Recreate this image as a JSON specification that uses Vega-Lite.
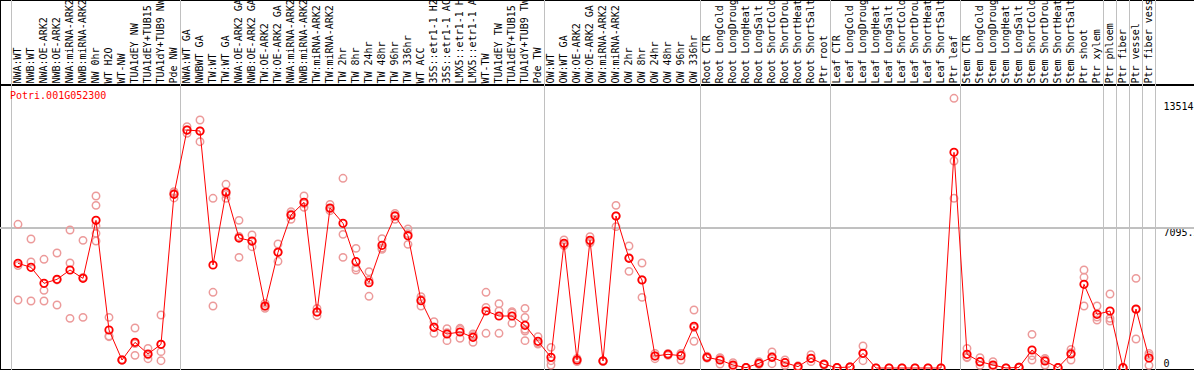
{
  "$schema": "https://vega.github.io/schema/vega-lite/v6.json",
  "width": 1196,
  "height": 370,
  "autosize": {"type": "none"},
  "padding": 0,
  "background": "white",
  "config": {
    "view": {"stroke": "black", "strokeWidth": 2},
    "font": "DejaVu Sans Mono"
  },
  "title": {
    "text": "Potri.001G052300",
    "orient": "bottom",
    "anchor": "start",
    "frame": "group",
    "offset": -284,
    "dx": 10,
    "color": "#ff0000",
    "font": "DejaVu Sans Mono",
    "fontSize": 10,
    "fontWeight": "normal",
    "baseline": "top"
  },
  "datasets": {
    "means": [
      {"sample": "NWA:WT", "mean": 5299, "first": true},
      {"sample": "NWB:WT", "mean": 5095},
      {"sample": "NWA:OE-ARK2", "mean": 4286},
      {"sample": "NWB:OE-ARK2", "mean": 4488},
      {"sample": "NWA:miRNA-ARK2", "mean": 4960},
      {"sample": "NWB:miRNA-ARK2", "mean": 4538},
      {"sample": "NW 0hr", "mean": 7474},
      {"sample": "WT H2O", "mean": 1923},
      {"sample": "WT-NW", "mean": 405},
      {"sample": "TUA1dEY NW", "mean": 1299},
      {"sample": "TUA1dEY+TUB15 NW", "mean": 709},
      {"sample": "TUA1dY+TUB9 NW", "mean": 1198},
      {"sample": "Pde NW", "mean": 8791},
      {"sample": "NWA:WT GA", "mean": 12045, "first": true},
      {"sample": "NWBWT GA", "mean": 11995},
      {"sample": "TW:WT", "mean": 5213},
      {"sample": "TW:WT GA", "mean": 8892},
      {"sample": "NWA:OE-ARK2 GA", "mean": 6579},
      {"sample": "NWB:OE-ARK2 GA", "mean": 6427},
      {"sample": "TW:OE-ARK2", "mean": 3138},
      {"sample": "TW:OE-ARK2 GA", "mean": 5855},
      {"sample": "NWA:miRNA-ARK2 GA", "mean": 7743},
      {"sample": "NWB:miRNA-ARK2 GA", "mean": 8386},
      {"sample": "TW:miRNA-ARK2", "mean": 2834},
      {"sample": "TW:miRNA-ARK2 GA", "mean": 8098},
      {"sample": "TW 2hr", "mean": 7323},
      {"sample": "TW 8hr", "mean": 5382},
      {"sample": "TW 24hr", "mean": 4319},
      {"sample": "TW 48hr", "mean": 6208},
      {"sample": "TW 96hr", "mean": 7693},
      {"sample": "TW 336hr", "mean": 6697},
      {"sample": "WT ACC", "mean": 3408},
      {"sample": "35S::etr1-1 H2O", "mean": 2058},
      {"sample": "35S::etr1-1 ACC", "mean": 1721},
      {"sample": "LMX5::etr1-1 H2O", "mean": 1822},
      {"sample": "LMX5::etr1-1 ACC", "mean": 1552},
      {"sample": "WT-TW", "mean": 2885},
      {"sample": "TUA1dEY TW", "mean": 2632},
      {"sample": "TUA1dEY+TUB15 TW", "mean": 2632},
      {"sample": "TUA1dY+TUB9 TW", "mean": 2159},
      {"sample": "Pde TW", "mean": 1350},
      {"sample": "OW:WT", "mean": 540, "first": true},
      {"sample": "OW:WT GA", "mean": 6309},
      {"sample": "OW:OE-ARK2", "mean": 405},
      {"sample": "OW:OE-ARK2 GA", "mean": 6461},
      {"sample": "OW:miRNA-ARK2", "mean": 354},
      {"sample": "OW:miRNA-ARK2 GA", "mean": 7693},
      {"sample": "OW 2hr", "mean": 5551},
      {"sample": "OW 8hr", "mean": 4454},
      {"sample": "OW 24hr", "mean": 607},
      {"sample": "OW 48hr", "mean": 692},
      {"sample": "OW 96hr", "mean": 624},
      {"sample": "OW 336hr", "mean": 2109},
      {"sample": "Root CTR", "mean": 540, "first": true},
      {"sample": "Root LongCold", "mean": 405},
      {"sample": "Root LongDrought", "mean": 152},
      {"sample": "Root LongHeat", "mean": 17},
      {"sample": "Root LongSalt", "mean": 236},
      {"sample": "Root ShortCold", "mean": 540},
      {"sample": "Root ShortDrought", "mean": 270},
      {"sample": "Root ShortHeat", "mean": 68},
      {"sample": "Root ShortSalt", "mean": 489},
      {"sample": "Ptr root", "mean": 186},
      {"sample": "Leaf CTR", "mean": 17, "first": true},
      {"sample": "Leaf LongCold", "mean": 50},
      {"sample": "Leaf LongDrought", "mean": 742},
      {"sample": "Leaf LongHeat", "mean": 0},
      {"sample": "Leaf LongSalt", "mean": 0},
      {"sample": "Leaf ShortCold", "mean": 0},
      {"sample": "Leaf ShortDrought", "mean": 0},
      {"sample": "Leaf ShortHeat", "mean": 0},
      {"sample": "Leaf ShortSalt", "mean": 0},
      {"sample": "Ptr leaf", "mean": 10915},
      {"sample": "Stem CTR", "mean": 692, "first": true},
      {"sample": "Stem LongCold", "mean": 321},
      {"sample": "Stem LongDrought", "mean": 152},
      {"sample": "Stem LongHeat", "mean": 0},
      {"sample": "Stem LongSalt", "mean": 34},
      {"sample": "Stem ShortCold", "mean": 911},
      {"sample": "Stem ShortDrought", "mean": 354},
      {"sample": "Stem ShortHeat", "mean": 17},
      {"sample": "Stem ShortSalt", "mean": 709},
      {"sample": "Ptr shoot", "mean": 4235},
      {"sample": "Ptr xylem", "mean": 2716},
      {"sample": "Ptr phloem", "mean": 2885, "first": true},
      {"sample": "Ptr fiber", "mean": 17, "first": true},
      {"sample": "Ptr vessel", "mean": 2986, "first": true},
      {"sample": "Ptr fiber vessel", "mean": 506, "first": true, "last": true}
    ],
    "reps": [
      {"sample": "NWA:WT", "value": 7272}, {"sample": "NWA:WT", "value": 5184}, {"sample": "NWA:WT", "value": 3441},
      {"sample": "NWB:WT", "value": 6529}, {"sample": "NWB:WT", "value": 5365}, {"sample": "NWB:WT", "value": 3391},
      {"sample": "NWA:OE-ARK2", "value": 5501}, {"sample": "NWA:OE-ARK2", "value": 3931}, {"sample": "NWA:OE-ARK2", "value": 3391},
      {"sample": "NWB:OE-ARK2", "value": 5820}, {"sample": "NWB:OE-ARK2", "value": 4456}, {"sample": "NWB:OE-ARK2", "value": 3188},
      {"sample": "NWA:miRNA-ARK2", "value": 6984}, {"sample": "NWA:miRNA-ARK2", "value": 5314}, {"sample": "NWA:miRNA-ARK2", "value": 2514},
      {"sample": "NWB:miRNA-ARK2", "value": 6461}, {"sample": "NWB:miRNA-ARK2", "value": 4589}, {"sample": "NWB:miRNA-ARK2", "value": 2564},
      {"sample": "NW 0hr", "value": 8705}, {"sample": "NW 0hr", "value": 8233}, {"sample": "NW 0hr", "value": 6815}, {"sample": "NW 0hr", "value": 6427}, {"sample": "NW 0hr", "value": 7190},
      {"sample": "WT H2O", "value": 2564}, {"sample": "WT H2O", "value": 1619}, {"sample": "WT H2O", "value": 1586},
      {"sample": "WT-NW", "value": 420}, {"sample": "WT-NW", "value": 400}, {"sample": "WT-NW", "value": 395},
      {"sample": "TUA1dEY NW", "value": 2024}, {"sample": "TUA1dEY NW", "value": 1232}, {"sample": "TUA1dEY NW", "value": 641},
      {"sample": "TUA1dEY+TUB15 NW", "value": 995}, {"sample": "TUA1dEY+TUB15 NW", "value": 660}, {"sample": "TUA1dEY+TUB15 NW", "value": 472},
      {"sample": "TUA1dY+TUB9 NW", "value": 2682}, {"sample": "TUA1dY+TUB9 NW", "value": 1198}, {"sample": "TUA1dY+TUB9 NW", "value": 827}, {"sample": "TUA1dY+TUB9 NW", "value": 371},
      {"sample": "Pde NW", "value": 8925}, {"sample": "Pde NW", "value": 8840}, {"sample": "Pde NW", "value": 8608},
      {"sample": "NWA:WT GA", "value": 12214}, {"sample": "NWA:WT GA", "value": 12045}, {"sample": "NWA:WT GA", "value": 11877},
      {"sample": "NWBWT GA", "value": 12551}, {"sample": "NWBWT GA", "value": 11980}, {"sample": "NWBWT GA", "value": 11453},
      {"sample": "TW:WT", "value": 8588}, {"sample": "TW:WT", "value": 3831}, {"sample": "TW:WT", "value": 3138},
      {"sample": "TW:WT GA", "value": 9297}, {"sample": "TW:WT GA", "value": 8790}, {"sample": "TW:WT GA", "value": 8588},
      {"sample": "NWA:OE-ARK2 GA", "value": 7474}, {"sample": "NWA:OE-ARK2 GA", "value": 6660}, {"sample": "NWA:OE-ARK2 GA", "value": 5601},
      {"sample": "NWB:OE-ARK2 GA", "value": 6731}, {"sample": "NWB:OE-ARK2 GA", "value": 6410}, {"sample": "NWB:OE-ARK2 GA", "value": 6140},
      {"sample": "TW:OE-ARK2", "value": 3273}, {"sample": "TW:OE-ARK2", "value": 3120}, {"sample": "TW:OE-ARK2", "value": 3019},
      {"sample": "TW:OE-ARK2 GA", "value": 6276}, {"sample": "TW:OE-ARK2 GA", "value": 5890}, {"sample": "TW:OE-ARK2 GA", "value": 5400},
      {"sample": "NWA:miRNA-ARK2 GA", "value": 7911}, {"sample": "NWA:miRNA-ARK2 GA", "value": 7793}, {"sample": "NWA:miRNA-ARK2 GA", "value": 7525},
      {"sample": "NWB:miRNA-ARK2 GA", "value": 8705}, {"sample": "NWB:miRNA-ARK2 GA", "value": 8320}, {"sample": "NWB:miRNA-ARK2 GA", "value": 8133},
      {"sample": "TW:miRNA-ARK2", "value": 3019}, {"sample": "TW:miRNA-ARK2", "value": 2835}, {"sample": "TW:miRNA-ARK2", "value": 2648},
      {"sample": "TW:miRNA-ARK2 GA", "value": 8283}, {"sample": "TW:miRNA-ARK2 GA", "value": 8050}, {"sample": "TW:miRNA-ARK2 GA", "value": 7962},
      {"sample": "TW 2hr", "value": 9601}, {"sample": "TW 2hr", "value": 6765}, {"sample": "TW 2hr", "value": 5601},
      {"sample": "TW 8hr", "value": 6056}, {"sample": "TW 8hr", "value": 5078}, {"sample": "TW 8hr", "value": 4960},
      {"sample": "TW 24hr", "value": 4875}, {"sample": "TW 24hr", "value": 4450}, {"sample": "TW 24hr", "value": 3628},
      {"sample": "TW 48hr", "value": 6546}, {"sample": "TW 48hr", "value": 6075}, {"sample": "TW 48hr", "value": 6005},
      {"sample": "TW 96hr", "value": 7828}, {"sample": "TW 96hr", "value": 7725}, {"sample": "TW 96hr", "value": 7525},
      {"sample": "TW 336hr", "value": 7035}, {"sample": "TW 336hr", "value": 6800}, {"sample": "TW 336hr", "value": 6258},
      {"sample": "WT ACC", "value": 3610}, {"sample": "WT ACC", "value": 3475}, {"sample": "WT ACC", "value": 3138},
      {"sample": "35S::etr1-1 H2O", "value": 2345}, {"sample": "35S::etr1-1 H2O", "value": 2075}, {"sample": "35S::etr1-1 H2O", "value": 1755},
      {"sample": "35S::etr1-1 ACC", "value": 1991}, {"sample": "35S::etr1-1 ACC", "value": 1790}, {"sample": "35S::etr1-1 ACC", "value": 1384},
      {"sample": "LMX5::etr1-1 H2O", "value": 2008}, {"sample": "LMX5::etr1-1 H2O", "value": 1955}, {"sample": "LMX5::etr1-1 H2O", "value": 1502},
      {"sample": "LMX5::etr1-1 ACC", "value": 1721}, {"sample": "LMX5::etr1-1 ACC", "value": 1636}, {"sample": "LMX5::etr1-1 ACC", "value": 1299},
      {"sample": "WT-TW", "value": 3831}, {"sample": "WT-TW", "value": 3070}, {"sample": "WT-TW", "value": 1755},
      {"sample": "TUA1dEY TW", "value": 3256}, {"sample": "TUA1dEY TW", "value": 2885}, {"sample": "TUA1dEY TW", "value": 1755},
      {"sample": "TUA1dEY+TUB15 TW", "value": 2851}, {"sample": "TUA1dEY+TUB15 TW", "value": 2784}, {"sample": "TUA1dEY+TUB15 TW", "value": 2261},
      {"sample": "TUA1dY+TUB9 TW", "value": 3019}, {"sample": "TUA1dY+TUB9 TW", "value": 2564}, {"sample": "TUA1dY+TUB9 TW", "value": 1957}, {"sample": "TUA1dY+TUB9 TW", "value": 1870}, {"sample": "TUA1dY+TUB9 TW", "value": 1384},
      {"sample": "Pde TW", "value": 1586}, {"sample": "Pde TW", "value": 1248}, {"sample": "Pde TW", "value": 1216},
      {"sample": "OW:WT", "value": 1046}, {"sample": "OW:WT", "value": 371}, {"sample": "OW:WT", "value": 152},
      {"sample": "OW:WT GA", "value": 6478}, {"sample": "OW:WT GA", "value": 6250}, {"sample": "OW:WT GA", "value": 6200},
      {"sample": "OW:OE-ARK2", "value": 489}, {"sample": "OW:OE-ARK2", "value": 405}, {"sample": "OW:OE-ARK2", "value": 321},
      {"sample": "OW:OE-ARK2 GA", "value": 6647}, {"sample": "OW:OE-ARK2 GA", "value": 6400}, {"sample": "OW:OE-ARK2 GA", "value": 6340},
      {"sample": "OW:miRNA-ARK2", "value": 370}, {"sample": "OW:miRNA-ARK2", "value": 360}, {"sample": "OW:miRNA-ARK2", "value": 330},
      {"sample": "OW:miRNA-ARK2 GA", "value": 8233}, {"sample": "OW:miRNA-ARK2 GA", "value": 7692}, {"sample": "OW:miRNA-ARK2 GA", "value": 7154},
      {"sample": "OW 2hr", "value": 6174}, {"sample": "OW 2hr", "value": 5587}, {"sample": "OW 2hr", "value": 4892},
      {"sample": "OW 8hr", "value": 5314}, {"sample": "OW 8hr", "value": 4472}, {"sample": "OW 8hr", "value": 3576},
      {"sample": "OW 24hr", "value": 742}, {"sample": "OW 24hr", "value": 607}, {"sample": "OW 24hr", "value": 472},
      {"sample": "OW 48hr", "value": 742}, {"sample": "OW 48hr", "value": 692}, {"sample": "OW 48hr", "value": 641},
      {"sample": "OW 96hr", "value": 742}, {"sample": "OW 96hr", "value": 725}, {"sample": "OW 96hr", "value": 405},
      {"sample": "OW 336hr", "value": 2935}, {"sample": "OW 336hr", "value": 2042}, {"sample": "OW 336hr", "value": 1350},
      {"sample": "Root CTR", "value": 600}, {"sample": "Root CTR", "value": 520}, {"sample": "Root CTR", "value": 500},
      {"sample": "Root LongCold", "value": 523}, {"sample": "Root LongCold", "value": 490}, {"sample": "Root LongCold", "value": 203},
      {"sample": "Root LongDrought", "value": 270}, {"sample": "Root LongDrought", "value": 100}, {"sample": "Root LongDrought", "value": 84},
      {"sample": "Root LongHeat", "value": 30}, {"sample": "Root LongHeat", "value": 20}, {"sample": "Root LongHeat", "value": 0},
      {"sample": "Root LongSalt", "value": 321}, {"sample": "Root LongSalt", "value": 200}, {"sample": "Root LongSalt", "value": 190},
      {"sample": "Root ShortCold", "value": 810}, {"sample": "Root ShortCold", "value": 590}, {"sample": "Root ShortCold", "value": 219},
      {"sample": "Root ShortDrought", "value": 405}, {"sample": "Root ShortDrought", "value": 270}, {"sample": "Root ShortDrought", "value": 135},
      {"sample": "Root ShortHeat", "value": 100}, {"sample": "Root ShortHeat", "value": 100}, {"sample": "Root ShortHeat", "value": 0},
      {"sample": "Root ShortSalt", "value": 675}, {"sample": "Root ShortSalt", "value": 472}, {"sample": "Root ShortSalt", "value": 321},
      {"sample": "Ptr root", "value": 210}, {"sample": "Ptr root", "value": 200}, {"sample": "Ptr root", "value": 150},
      {"sample": "Leaf CTR", "value": 30}, {"sample": "Leaf CTR", "value": 20}, {"sample": "Leaf CTR", "value": 0},
      {"sample": "Leaf LongCold", "value": 60}, {"sample": "Leaf LongCold", "value": 50}, {"sample": "Leaf LongCold", "value": 40},
      {"sample": "Leaf LongDrought", "value": 1113}, {"sample": "Leaf LongDrought", "value": 742}, {"sample": "Leaf LongDrought", "value": 371},
      {"sample": "Leaf LongHeat", "value": 0},
      {"sample": "Leaf LongSalt", "value": 0},
      {"sample": "Leaf ShortCold", "value": 0},
      {"sample": "Leaf ShortDrought", "value": 0},
      {"sample": "Leaf ShortHeat", "value": 0},
      {"sample": "Leaf ShortSalt", "value": 0},
      {"sample": "Ptr leaf", "value": 13650}, {"sample": "Ptr leaf", "value": 10476}, {"sample": "Ptr leaf", "value": 8588},
      {"sample": "Stem CTR", "value": 995}, {"sample": "Stem CTR", "value": 560}, {"sample": "Stem CTR", "value": 523},
      {"sample": "Stem LongCold", "value": 523}, {"sample": "Stem LongCold", "value": 305}, {"sample": "Stem LongCold", "value": 135},
      {"sample": "Stem LongDrought", "value": 321}, {"sample": "Stem LongDrought", "value": 85}, {"sample": "Stem LongDrought", "value": 50},
      {"sample": "Stem LongHeat", "value": 0},
      {"sample": "Stem LongSalt", "value": 50}, {"sample": "Stem LongSalt", "value": 30}, {"sample": "Stem LongSalt", "value": 20},
      {"sample": "Stem ShortCold", "value": 1704}, {"sample": "Stem ShortCold", "value": 624}, {"sample": "Stem ShortCold", "value": 405},
      {"sample": "Stem ShortDrought", "value": 489}, {"sample": "Stem ShortDrought", "value": 420}, {"sample": "Stem ShortDrought", "value": 152},
      {"sample": "Stem ShortHeat", "value": 30}, {"sample": "Stem ShortHeat", "value": 20}, {"sample": "Stem ShortHeat", "value": 0},
      {"sample": "Stem ShortSalt", "value": 945}, {"sample": "Stem ShortSalt", "value": 777}, {"sample": "Stem ShortSalt", "value": 405},
      {"sample": "Ptr shoot", "value": 4960}, {"sample": "Ptr shoot", "value": 4590}, {"sample": "Ptr shoot", "value": 3138},
      {"sample": "Ptr xylem", "value": 3138}, {"sample": "Ptr xylem", "value": 2580}, {"sample": "Ptr xylem", "value": 2430},
      {"sample": "Ptr phloem", "value": 3745}, {"sample": "Ptr phloem", "value": 2514}, {"sample": "Ptr phloem", "value": 2379},
      {"sample": "Ptr fiber", "value": 30}, {"sample": "Ptr fiber", "value": 20}, {"sample": "Ptr fiber", "value": 0},
      {"sample": "Ptr vessel", "value": 4538}, {"sample": "Ptr vessel", "value": 2950}, {"sample": "Ptr vessel", "value": 1468},
      {"sample": "Ptr fiber vessel", "value": 742}, {"sample": "Ptr fiber vessel", "value": 640}, {"sample": "Ptr fiber vessel", "value": 135}
    ]
  },
  "data": {"name": "means"},
  "layer": [
    {
      "mark": {"type": "rule", "color": "#c0c0c0", "strokeWidth": 1},
      "encoding": {
        "y": {
          "datum": 7095.5, "type": "quantitative",
          "scale": {"domain": [-101, 18626], "nice": false, "zero": false},
          "axis": {
            "orient": "right", "offset": -33, "title": null,
            "values": [0, 7095.5, 13514], "format": ".6~g",
            "labelFont": "DejaVu Sans Mono", "labelFontSize": 10, "labelColor": "black",
            "labelAlign": "left", "labelPadding": 0,
            "labelBaseline": {"condition": {"test": "datum.value == 0", "value": "bottom"}, "value": "top"},
            "labelFlush": false, "labelOverlap": false,
            "ticks": false, "domain": false, "grid": false
          }
        }
      }
    },
    {
      "mark": {"type": "rule", "color": "black", "strokeWidth": 1},
      "encoding": {
        "y": {
          "datum": 14324, "type": "quantitative",
          "scale": {"domain": [-101, 18626], "nice": false, "zero": false},
          "axis": {
            "orient": "right", "offset": -33, "title": null,
            "values": [0, 7095.5, 13514], "format": ".6~g",
            "labelFont": "DejaVu Sans Mono", "labelFontSize": 10, "labelColor": "black",
            "labelAlign": "left", "labelPadding": 0,
            "labelBaseline": {"condition": {"test": "datum.value == 0", "value": "bottom"}, "value": "top"},
            "labelFlush": false, "labelOverlap": false,
            "ticks": false, "domain": false, "grid": false
          }
        }
      }
    },
    {
      "mark": {"type": "rule", "color": "#c0c0c0", "strokeWidth": 1},
      "encoding": {
        "x": {
          "field": "sample", "type": "nominal", "sort": null, "bandPosition": 0,
          "scale": {"type": "band", "paddingInner": 0, "paddingOuter": 0, "range": [11.5, 1155.5]},
          "axis": {
            "orient": "top", "offset": -85, "title": null,
            "labelAngle": 270, "labelAlign": "left", "labelBaseline": "middle",
            "labelPadding": 2, "labelFont": "DejaVu Sans Mono", "labelFontSize": 10,
            "labelColor": "black", "labelOverlap": false, "labelLimit": 300,
            "ticks": false, "grid": false, "domain": false
          }
        },
        "strokeOpacity": {"condition": {"test": "datum.first", "value": 1}, "value": 0}
      }
    },
    {
      "mark": {"type": "rule", "color": "#c0c0c0", "strokeWidth": 1},
      "encoding": {
        "x": {
          "field": "sample", "type": "nominal", "sort": null, "bandPosition": 1,
          "scale": {"type": "band", "paddingInner": 0, "paddingOuter": 0, "range": [11.5, 1155.5]},
          "axis": {
            "orient": "top", "offset": -85, "title": null,
            "labelAngle": 270, "labelAlign": "left", "labelBaseline": "middle",
            "labelPadding": 2, "labelFont": "DejaVu Sans Mono", "labelFontSize": 10,
            "labelColor": "black", "labelOverlap": false, "labelLimit": 300,
            "ticks": false, "grid": false, "domain": false
          }
        },
        "strokeOpacity": {"condition": {"test": "datum.last", "value": 1}, "value": 0}
      }
    },
    {
      "data": {"name": "reps"},
      "mark": {"type": "point", "shape": "circle", "filled": false, "size": 55, "strokeWidth": 1.5, "color": "#ec9a9a", "opacity": 1},
      "encoding": {
        "x": {
          "field": "sample", "type": "nominal", "sort": null,
          "scale": {"type": "band", "paddingInner": 0, "paddingOuter": 0, "range": [11.5, 1155.5]},
          "axis": {
            "orient": "top", "offset": -85, "title": null,
            "labelAngle": 270, "labelAlign": "left", "labelBaseline": "middle",
            "labelPadding": 2, "labelFont": "DejaVu Sans Mono", "labelFontSize": 10,
            "labelColor": "black", "labelOverlap": false, "labelLimit": 300,
            "ticks": false, "grid": false, "domain": false
          }
        },
        "y": {
          "field": "value", "type": "quantitative",
          "scale": {"domain": [-101, 18626], "nice": false, "zero": false},
          "axis": {
            "orient": "right", "offset": -33, "title": null,
            "values": [0, 7095.5, 13514], "format": ".6~g",
            "labelFont": "DejaVu Sans Mono", "labelFontSize": 10, "labelColor": "black",
            "labelAlign": "left", "labelPadding": 0,
            "labelBaseline": {"condition": {"test": "datum.value == 0", "value": "bottom"}, "value": "top"},
            "labelFlush": false, "labelOverlap": false,
            "ticks": false, "domain": false, "grid": false
          }
        }
      }
    },
    {
      "mark": {"type": "line", "color": "#ff0000", "strokeWidth": 1},
      "encoding": {
        "x": {
          "field": "sample", "type": "nominal", "sort": null,
          "scale": {"type": "band", "paddingInner": 0, "paddingOuter": 0, "range": [11.5, 1155.5]},
          "axis": {
            "orient": "top", "offset": -85, "title": null,
            "labelAngle": 270, "labelAlign": "left", "labelBaseline": "middle",
            "labelPadding": 2, "labelFont": "DejaVu Sans Mono", "labelFontSize": 10,
            "labelColor": "black", "labelOverlap": false, "labelLimit": 300,
            "ticks": false, "grid": false, "domain": false
          }
        },
        "y": {
          "field": "mean", "type": "quantitative",
          "scale": {"domain": [-101, 18626], "nice": false, "zero": false},
          "axis": {
            "orient": "right", "offset": -33, "title": null,
            "values": [0, 7095.5, 13514], "format": ".6~g",
            "labelFont": "DejaVu Sans Mono", "labelFontSize": 10, "labelColor": "black",
            "labelAlign": "left", "labelPadding": 0,
            "labelBaseline": {"condition": {"test": "datum.value == 0", "value": "bottom"}, "value": "top"},
            "labelFlush": false, "labelOverlap": false,
            "ticks": false, "domain": false, "grid": false
          }
        },
        "order": {"value": null}
      }
    },
    {
      "mark": {"type": "point", "shape": "circle", "filled": false, "size": 55, "strokeWidth": 1.8, "color": "#ff0000", "opacity": 1},
      "encoding": {
        "x": {
          "field": "sample", "type": "nominal", "sort": null,
          "scale": {"type": "band", "paddingInner": 0, "paddingOuter": 0, "range": [11.5, 1155.5]},
          "axis": {
            "orient": "top", "offset": -85, "title": null,
            "labelAngle": 270, "labelAlign": "left", "labelBaseline": "middle",
            "labelPadding": 2, "labelFont": "DejaVu Sans Mono", "labelFontSize": 10,
            "labelColor": "black", "labelOverlap": false, "labelLimit": 300,
            "ticks": false, "grid": false, "domain": false
          }
        },
        "y": {
          "field": "mean", "type": "quantitative",
          "scale": {"domain": [-101, 18626], "nice": false, "zero": false},
          "axis": {
            "orient": "right", "offset": -33, "title": null,
            "values": [0, 7095.5, 13514], "format": ".6~g",
            "labelFont": "DejaVu Sans Mono", "labelFontSize": 10, "labelColor": "black",
            "labelAlign": "left", "labelPadding": 0,
            "labelBaseline": {"condition": {"test": "datum.value == 0", "value": "bottom"}, "value": "top"},
            "labelFlush": false, "labelOverlap": false,
            "ticks": false, "domain": false, "grid": false
          }
        }
      }
    }
  ]
}
